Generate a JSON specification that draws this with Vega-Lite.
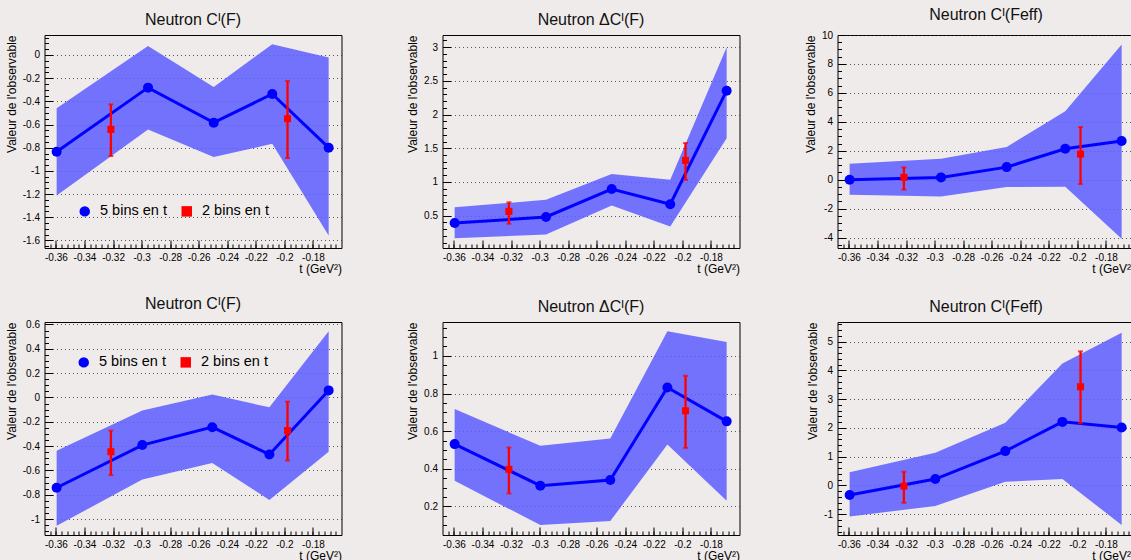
{
  "$schema": "https://vega.github.io/schema/vega-lite/v6.json",
  "padding": {"left": 4.5, "top": 6, "right": 0, "bottom": 0},
  "data": {"values": [
    {"p":1,"s":"5 bins en t","t":-0.3595,"v":-0.835,"lo":-1.212,"hi":-0.46},
    {"p":1,"s":"5 bins en t","t":-0.2955,"v":-0.282,"lo":-0.642,"hi":0.078},
    {"p":1,"s":"5 bins en t","t":-0.2495,"v":-0.584,"lo":-0.881,"hi":-0.276},
    {"p":1,"s":"5 bins en t","t":-0.2085,"v":-0.337,"lo":-0.766,"hi":0.092},
    {"p":1,"s":"5 bins en t","t":-0.169,"v":-0.80,"lo":-1.557,"hi":-0.023},
    {"p":1,"s":"2 bins en t","t":-0.3215,"v":-0.642,"lo":-0.872,"hi":-0.426},
    {"p":1,"s":"2 bins en t","t":-0.1978,"v":-0.55,"lo":-0.889,"hi":-0.225},
    {"p":2,"s":"5 bins en t","t":-0.3595,"v":0.39,"lo":0.163,"hi":0.623},
    {"p":2,"s":"5 bins en t","t":-0.2955,"v":0.48,"lo":0.222,"hi":0.736},
    {"p":2,"s":"5 bins en t","t":-0.2495,"v":0.895,"lo":0.652,"hi":1.118},
    {"p":2,"s":"5 bins en t","t":-0.2085,"v":0.67,"lo":0.34,"hi":1.034},
    {"p":2,"s":"5 bins en t","t":-0.169,"v":2.354,"lo":1.65,"hi":3.0},
    {"p":2,"s":"2 bins en t","t":-0.3215,"v":0.563,"lo":0.38,"hi":0.697},
    {"p":2,"s":"2 bins en t","t":-0.1978,"v":1.32,"lo":1.03,"hi":1.577},
    {"p":3,"s":"5 bins en t","t":-0.3595,"v":0.0,"lo":-1.04,"hi":1.1},
    {"p":3,"s":"5 bins en t","t":-0.2955,"v":0.16,"lo":-1.16,"hi":1.45},
    {"p":3,"s":"5 bins en t","t":-0.2495,"v":0.87,"lo":-0.51,"hi":2.26},
    {"p":3,"s":"5 bins en t","t":-0.2085,"v":2.14,"lo":-0.48,"hi":4.73},
    {"p":3,"s":"5 bins en t","t":-0.169,"v":2.67,"lo":-4.08,"hi":9.34},
    {"p":3,"s":"2 bins en t","t":-0.3215,"v":0.16,"lo":-0.69,"hi":0.85},
    {"p":3,"s":"2 bins en t","t":-0.1978,"v":1.77,"lo":-0.3,"hi":3.64},
    {"p":4,"s":"5 bins en t","t":-0.3595,"v":-0.742,"lo":-1.055,"hi":-0.438},
    {"p":4,"s":"5 bins en t","t":-0.2995,"v":-0.391,"lo":-0.673,"hi":-0.108},
    {"p":4,"s":"5 bins en t","t":-0.2505,"v":-0.244,"lo":-0.538,"hi":0.024},
    {"p":4,"s":"5 bins en t","t":-0.2105,"v":-0.468,"lo":-0.842,"hi":-0.081},
    {"p":4,"s":"5 bins en t","t":-0.169,"v":0.058,"lo":-0.446,"hi":0.545},
    {"p":4,"s":"2 bins en t","t":-0.3215,"v":-0.446,"lo":-0.638,"hi":-0.272},
    {"p":4,"s":"2 bins en t","t":-0.1978,"v":-0.272,"lo":-0.518,"hi":-0.034},
    {"p":5,"s":"5 bins en t","t":-0.3595,"v":0.531,"lo":0.336,"hi":0.717},
    {"p":5,"s":"5 bins en t","t":-0.2995,"v":0.31,"lo":0.101,"hi":0.522},
    {"p":5,"s":"5 bins en t","t":-0.2505,"v":0.34,"lo":0.122,"hi":0.561},
    {"p":5,"s":"5 bins en t","t":-0.2105,"v":0.832,"lo":0.529,"hi":1.131},
    {"p":5,"s":"5 bins en t","t":-0.169,"v":0.652,"lo":0.23,"hi":1.074},
    {"p":5,"s":"2 bins en t","t":-0.3215,"v":0.397,"lo":0.269,"hi":0.513},
    {"p":5,"s":"2 bins en t","t":-0.1978,"v":0.708,"lo":0.511,"hi":0.894},
    {"p":6,"s":"5 bins en t","t":-0.3595,"v":-0.33,"lo":-1.08,"hi":0.456},
    {"p":6,"s":"5 bins en t","t":-0.2995,"v":0.224,"lo":-0.71,"hi":1.14},
    {"p":6,"s":"5 bins en t","t":-0.2505,"v":1.195,"lo":0.13,"hi":2.18},
    {"p":6,"s":"5 bins en t","t":-0.2105,"v":2.21,"lo":0.224,"hi":4.24},
    {"p":6,"s":"5 bins en t","t":-0.169,"v":2.017,"lo":-1.37,"hi":5.31},
    {"p":6,"s":"2 bins en t","t":-0.3215,"v":-0.02,"lo":-0.6,"hi":0.477},
    {"p":6,"s":"2 bins en t","t":-0.1978,"v":3.43,"lo":2.16,"hi":4.66}
  ]},
  "columns": 3,
  "spacing": {"row": 20, "column": 63},
  "resolve": {"scale": {"color": "independent", "shape": "independent"}},
  "concat": [
    {
      "title": "Neutron Cᴵ(F)",
      "width": 297, "height": 213,
      "transform": [{"filter": "datum.p == 1"}],
      "resolve": {"axis": {"x": "independent", "y": "independent"}},
      "layer": [
        {"transform": [{"filter": "datum.s == '5 bins en t'"}],
         "mark": {"type": "area", "color": "#5d5dff", "opacity": 0.85},
         "encoding": {
           "x": {"field": "t", "type": "quantitative", "scale": {"domain": [-0.368, -0.16], "nice": false, "zero": false}, "title": "t (GeV²)",
                 "axis": {"orient": "bottom", "values": [-0.36,-0.34,-0.32,-0.3,-0.28,-0.26,-0.24,-0.22,-0.2,-0.18], "labelExpr": "toString(datum.value)", "tickSize": -8, "labelPadding": 12, "grid": false, "titleAnchor": "end", "titlePadding": 1, "labelFlush": false, "labelOverlap": false}},
           "y": {"field": "hi", "type": "quantitative", "scale": {"domain": [-1.665, 0.172], "nice": false, "zero": false}, "title": "Valeur de l'observable",
                 "axis": {"orient": "left", "values": [-1.6,-1.4,-1.2,-1,-0.8,-0.6,-0.4,-0.2,0], "labelExpr": "toString(datum.value)", "tickSize": -8, "labelPadding": 13, "grid": true, "titleAnchor": "end", "titlePadding": 4, "labelOverlap": false}},
           "y2": {"field": "lo"}
         }},
        {"transform": [{"filter": "datum.s == '5 bins en t'"}],
         "mark": {"type": "line", "color": "#0000ff", "strokeWidth": 3},
         "encoding": {
           "x": {"field": "t", "type": "quantitative", "scale": {"domain": [-0.368, -0.16], "nice": false, "zero": false},
                 "axis": {"orient": "bottom", "values": [-0.364,-0.36,-0.356,-0.352,-0.348,-0.344,-0.34,-0.336,-0.332,-0.328,-0.324,-0.32,-0.316,-0.312,-0.308,-0.304,-0.3,-0.296,-0.292,-0.288,-0.284,-0.28,-0.276,-0.272,-0.268,-0.264,-0.26,-0.256,-0.252,-0.248,-0.244,-0.24,-0.236,-0.232,-0.228,-0.224,-0.22,-0.216,-0.212,-0.208,-0.204,-0.2,-0.196,-0.192,-0.188,-0.184,-0.18,-0.176,-0.172,-0.168,-0.164], "tickSize": -4, "labels": false, "title": null, "grid": false}},
           "y": {"field": "v", "type": "quantitative", "scale": {"domain": [-1.665, 0.172], "nice": false, "zero": false},
                 "axis": {"orient": "left", "values": [-1.65,-1.55,-1.5,-1.45,-1.35,-1.3,-1.25,-1.15,-1.1,-1.05,-0.95,-0.9,-0.85,-0.75,-0.7,-0.65,-0.55,-0.5,-0.45,-0.35,-0.3,-0.25,-0.15,-0.1,-0.05,0.05,0.1,0.15], "tickSize": -4, "labels": false, "title": null, "grid": false}}
         }},
        {"transform": [{"filter": "datum.s == '2 bins en t'"}],
         "mark": {"type": "errorbar", "color": "#ff0000", "thickness": 2.3, "ticks": {"size": 5, "thickness": 2, "color": "#ff0000"}},
         "encoding": {
           "x": {"field": "t", "type": "quantitative", "scale": {"domain": [-0.368, -0.16], "nice": false, "zero": false}, "axis": null},
           "y": {"field": "lo", "type": "quantitative", "scale": {"domain": [-1.665, 0.172], "nice": false, "zero": false}, "axis": null},
           "y2": {"field": "hi"}
         }},
        {"mark": {"type": "point", "filled": true, "opacity": 1},
         "encoding": {
           "x": {"field": "t", "type": "quantitative", "scale": {"domain": [-0.368, -0.16], "nice": false, "zero": false}, "axis": null},
           "y": {"field": "v", "type": "quantitative", "scale": {"domain": [-1.665, 0.172], "nice": false, "zero": false}, "axis": null},
           "color": {"field": "s", "type": "nominal", "scale": {"domain": ["5 bins en t", "2 bins en t"], "range": ["#0000ff", "#ff0000"]},
                     "legend": {"orient": "none", "legendX": 33, "legendY": 169, "direction": "horizontal", "title": null, "labelFontSize": 14.5, "labelOffset": 8, "columnPadding": 12, "padding": 0, "symbolSize": 110, "symbolStrokeWidth": 0, "labelFont": "Liberation Sans", "labelColor": "#000",
                                "encode": {"symbols": {"update": {"size": {"signal": "datum.value === '5 bins en t' ? 110 : 50"}}}}}},
           "shape": {"field": "s", "type": "nominal", "scale": {"domain": ["5 bins en t", "2 bins en t"], "range": ["circle", "square"]},
                     "legend": {"orient": "none", "legendX": 33, "legendY": 169, "direction": "horizontal", "title": null, "labelFontSize": 14.5, "labelOffset": 8, "columnPadding": 12, "padding": 0, "symbolSize": 110, "symbolStrokeWidth": 0, "labelFont": "Liberation Sans", "labelColor": "#000",
                                "encode": {"symbols": {"update": {"size": {"signal": "datum.value === '5 bins en t' ? 110 : 50"}}}}}},
           "size": {"condition": {"test": "datum.s == '2 bins en t'", "value": 50}, "value": 100}
         }}
      ]
    },
    {
      "title": "Neutron ΔCᴵ(F)",
      "width": 297, "height": 213,
      "transform": [{"filter": "datum.p == 2"}],
      "resolve": {"axis": {"x": "independent", "y": "independent"}},
      "layer": [
        {"transform": [{"filter": "datum.s == '5 bins en t'"}],
         "mark": {"type": "area", "color": "#5d5dff", "opacity": 0.85},
         "encoding": {
           "x": {"field": "t", "type": "quantitative", "scale": {"domain": [-0.368, -0.16], "nice": false, "zero": false}, "title": "t (GeV²)",
                 "axis": {"orient": "bottom", "values": [-0.36,-0.34,-0.32,-0.3,-0.28,-0.26,-0.24,-0.22,-0.2,-0.18], "labelExpr": "toString(datum.value)", "tickSize": -8, "labelPadding": 12, "grid": false, "titleAnchor": "end", "titlePadding": 1, "labelFlush": false, "labelOverlap": false}},
           "y": {"field": "hi", "type": "quantitative", "scale": {"domain": [0.02, 3.18], "nice": false, "zero": false}, "title": "Valeur de l'observable",
                 "axis": {"orient": "left", "values": [0.5,1,1.5,2,2.5,3], "labelExpr": "toString(datum.value)", "tickSize": -8, "labelPadding": 13, "grid": true, "titleAnchor": "end", "titlePadding": 4, "labelOverlap": false}},
           "y2": {"field": "lo"}
         }},
        {"transform": [{"filter": "datum.s == '5 bins en t'"}],
         "mark": {"type": "line", "color": "#0000ff", "strokeWidth": 3},
         "encoding": {
           "x": {"field": "t", "type": "quantitative", "scale": {"domain": [-0.368, -0.16], "nice": false, "zero": false},
                 "axis": {"orient": "bottom", "values": [-0.364,-0.36,-0.356,-0.352,-0.348,-0.344,-0.34,-0.336,-0.332,-0.328,-0.324,-0.32,-0.316,-0.312,-0.308,-0.304,-0.3,-0.296,-0.292,-0.288,-0.284,-0.28,-0.276,-0.272,-0.268,-0.264,-0.26,-0.256,-0.252,-0.248,-0.244,-0.24,-0.236,-0.232,-0.228,-0.224,-0.22,-0.216,-0.212,-0.208,-0.204,-0.2,-0.196,-0.192,-0.188,-0.184,-0.18,-0.176,-0.172,-0.168,-0.164], "tickSize": -4, "labels": false, "title": null, "grid": false}},
           "y": {"field": "v", "type": "quantitative", "scale": {"domain": [0.02, 3.18], "nice": false, "zero": false},
                 "axis": {"orient": "left", "values": [0.1,0.2,0.3,0.4,0.6,0.7,0.8,0.9,1.1,1.2,1.3,1.4,1.6,1.7,1.8,1.9,2.1,2.2,2.3,2.4,2.6,2.7,2.8,2.9,3.1], "tickSize": -4, "labels": false, "title": null, "grid": false}}
         }},
        {"transform": [{"filter": "datum.s == '2 bins en t'"}],
         "mark": {"type": "errorbar", "color": "#ff0000", "thickness": 2.3, "ticks": {"size": 5, "thickness": 2, "color": "#ff0000"}},
         "encoding": {
           "x": {"field": "t", "type": "quantitative", "scale": {"domain": [-0.368, -0.16], "nice": false, "zero": false}, "axis": null},
           "y": {"field": "lo", "type": "quantitative", "scale": {"domain": [0.02, 3.18], "nice": false, "zero": false}, "axis": null},
           "y2": {"field": "hi"}
         }},
        {"mark": {"type": "point", "filled": true, "opacity": 1},
         "encoding": {
           "x": {"field": "t", "type": "quantitative", "scale": {"domain": [-0.368, -0.16], "nice": false, "zero": false}, "axis": null},
           "y": {"field": "v", "type": "quantitative", "scale": {"domain": [0.02, 3.18], "nice": false, "zero": false}, "axis": null},
           "color": {"field": "s", "type": "nominal", "scale": {"domain": ["5 bins en t", "2 bins en t"], "range": ["#0000ff", "#ff0000"]}, "legend": null},
           "shape": {"field": "s", "type": "nominal", "scale": {"domain": ["5 bins en t", "2 bins en t"], "range": ["circle", "square"]}, "legend": null},
           "size": {"condition": {"test": "datum.s == '2 bins en t'", "value": 50}, "value": 100}
         }}
      ]
    },
    {
      "title": "Neutron Cᴵ(Feff)",
      "width": 297, "height": 213,
      "transform": [{"filter": "datum.p == 3"}],
      "resolve": {"axis": {"x": "independent", "y": "independent"}},
      "layer": [
        {"transform": [{"filter": "datum.s == '5 bins en t'"}],
         "mark": {"type": "area", "color": "#5d5dff", "opacity": 0.85},
         "encoding": {
           "x": {"field": "t", "type": "quantitative", "scale": {"domain": [-0.368, -0.16], "nice": false, "zero": false}, "title": "t (GeV²)",
                 "axis": {"orient": "bottom", "values": [-0.36,-0.34,-0.32,-0.3,-0.28,-0.26,-0.24,-0.22,-0.2,-0.18], "labelExpr": "toString(datum.value)", "tickSize": -8, "labelPadding": 12, "grid": false, "titleAnchor": "end", "titlePadding": 1, "labelFlush": false, "labelOverlap": false}},
           "y": {"field": "hi", "type": "quantitative", "scale": {"domain": [-4.72, 10], "nice": false, "zero": false}, "title": "Valeur de l'observable",
                 "axis": {"orient": "left", "values": [-4,-2,0,2,4,6,8,10], "labelExpr": "toString(datum.value)", "tickSize": -8, "labelPadding": 13, "grid": true, "titleAnchor": "end", "titlePadding": 4, "labelOverlap": false}},
           "y2": {"field": "lo"}
         }},
        {"transform": [{"filter": "datum.s == '5 bins en t'"}],
         "mark": {"type": "line", "color": "#0000ff", "strokeWidth": 3},
         "encoding": {
           "x": {"field": "t", "type": "quantitative", "scale": {"domain": [-0.368, -0.16], "nice": false, "zero": false},
                 "axis": {"orient": "bottom", "values": [-0.364,-0.36,-0.356,-0.352,-0.348,-0.344,-0.34,-0.336,-0.332,-0.328,-0.324,-0.32,-0.316,-0.312,-0.308,-0.304,-0.3,-0.296,-0.292,-0.288,-0.284,-0.28,-0.276,-0.272,-0.268,-0.264,-0.26,-0.256,-0.252,-0.248,-0.244,-0.24,-0.236,-0.232,-0.228,-0.224,-0.22,-0.216,-0.212,-0.208,-0.204,-0.2,-0.196,-0.192,-0.188,-0.184,-0.18,-0.176,-0.172,-0.168,-0.164], "tickSize": -4, "labels": false, "title": null, "grid": false}},
           "y": {"field": "v", "type": "quantitative", "scale": {"domain": [-4.72, 10], "nice": false, "zero": false},
                 "axis": {"orient": "left", "values": [-4.5,-3.5,-3,-2.5,-1.5,-1,-0.5,0.5,1,1.5,2.5,3,3.5,4.5,5,5.5,6.5,7,7.5,8.5,9,9.5], "tickSize": -4, "labels": false, "title": null, "grid": false}}
         }},
        {"transform": [{"filter": "datum.s == '2 bins en t'"}],
         "mark": {"type": "errorbar", "color": "#ff0000", "thickness": 2.3, "ticks": {"size": 5, "thickness": 2, "color": "#ff0000"}},
         "encoding": {
           "x": {"field": "t", "type": "quantitative", "scale": {"domain": [-0.368, -0.16], "nice": false, "zero": false}, "axis": null},
           "y": {"field": "lo", "type": "quantitative", "scale": {"domain": [-4.72, 10], "nice": false, "zero": false}, "axis": null},
           "y2": {"field": "hi"}
         }},
        {"mark": {"type": "point", "filled": true, "opacity": 1},
         "encoding": {
           "x": {"field": "t", "type": "quantitative", "scale": {"domain": [-0.368, -0.16], "nice": false, "zero": false}, "axis": null},
           "y": {"field": "v", "type": "quantitative", "scale": {"domain": [-4.72, 10], "nice": false, "zero": false}, "axis": null},
           "color": {"field": "s", "type": "nominal", "scale": {"domain": ["5 bins en t", "2 bins en t"], "range": ["#0000ff", "#ff0000"]}, "legend": null},
           "shape": {"field": "s", "type": "nominal", "scale": {"domain": ["5 bins en t", "2 bins en t"], "range": ["circle", "square"]}, "legend": null},
           "size": {"condition": {"test": "datum.s == '2 bins en t'", "value": 50}, "value": 100}
         }}
      ]
    },
    {
      "title": "Neutron Cᴵ(F)",
      "width": 297, "height": 213,
      "transform": [{"filter": "datum.p == 4"}],
      "resolve": {"axis": {"x": "independent", "y": "independent"}},
      "layer": [
        {"transform": [{"filter": "datum.s == '5 bins en t'"}],
         "mark": {"type": "area", "color": "#5d5dff", "opacity": 0.85},
         "encoding": {
           "x": {"field": "t", "type": "quantitative", "scale": {"domain": [-0.368, -0.16], "nice": false, "zero": false}, "title": "t (GeV²)",
                 "axis": {"orient": "bottom", "values": [-0.36,-0.34,-0.32,-0.3,-0.28,-0.26,-0.24,-0.22,-0.2,-0.18], "labelExpr": "toString(datum.value)", "tickSize": -8, "labelPadding": 12, "grid": false, "titleAnchor": "end", "titlePadding": 1, "labelFlush": false, "labelOverlap": false}},
           "y": {"field": "hi", "type": "quantitative", "scale": {"domain": [-1.13, 0.62], "nice": false, "zero": false}, "title": "Valeur de l'observable",
                 "axis": {"orient": "left", "values": [-1,-0.8,-0.6,-0.4,-0.2,0,0.2,0.4,0.6], "labelExpr": "toString(datum.value)", "tickSize": -8, "labelPadding": 13, "grid": true, "titleAnchor": "end", "titlePadding": 4, "labelOverlap": false}},
           "y2": {"field": "lo"}
         }},
        {"transform": [{"filter": "datum.s == '5 bins en t'"}],
         "mark": {"type": "line", "color": "#0000ff", "strokeWidth": 3},
         "encoding": {
           "x": {"field": "t", "type": "quantitative", "scale": {"domain": [-0.368, -0.16], "nice": false, "zero": false},
                 "axis": {"orient": "bottom", "values": [-0.364,-0.36,-0.356,-0.352,-0.348,-0.344,-0.34,-0.336,-0.332,-0.328,-0.324,-0.32,-0.316,-0.312,-0.308,-0.304,-0.3,-0.296,-0.292,-0.288,-0.284,-0.28,-0.276,-0.272,-0.268,-0.264,-0.26,-0.256,-0.252,-0.248,-0.244,-0.24,-0.236,-0.232,-0.228,-0.224,-0.22,-0.216,-0.212,-0.208,-0.204,-0.2,-0.196,-0.192,-0.188,-0.184,-0.18,-0.176,-0.172,-0.168,-0.164], "tickSize": -4, "labels": false, "title": null, "grid": false}},
           "y": {"field": "v", "type": "quantitative", "scale": {"domain": [-1.13, 0.62], "nice": false, "zero": false},
                 "axis": {"orient": "left", "values": [-1.1,-1.05,-0.95,-0.9,-0.85,-0.75,-0.7,-0.65,-0.55,-0.5,-0.45,-0.35,-0.3,-0.25,-0.15,-0.1,-0.05,0.05,0.1,0.15,0.25,0.3,0.35,0.45,0.5,0.55], "tickSize": -4, "labels": false, "title": null, "grid": false}}
         }},
        {"transform": [{"filter": "datum.s == '2 bins en t'"}],
         "mark": {"type": "errorbar", "color": "#ff0000", "thickness": 2.3, "ticks": {"size": 5, "thickness": 2, "color": "#ff0000"}},
         "encoding": {
           "x": {"field": "t", "type": "quantitative", "scale": {"domain": [-0.368, -0.16], "nice": false, "zero": false}, "axis": null},
           "y": {"field": "lo", "type": "quantitative", "scale": {"domain": [-1.13, 0.62], "nice": false, "zero": false}, "axis": null},
           "y2": {"field": "hi"}
         }},
        {"mark": {"type": "point", "filled": true, "opacity": 1},
         "encoding": {
           "x": {"field": "t", "type": "quantitative", "scale": {"domain": [-0.368, -0.16], "nice": false, "zero": false}, "axis": null},
           "y": {"field": "v", "type": "quantitative", "scale": {"domain": [-1.13, 0.62], "nice": false, "zero": false}, "axis": null},
           "color": {"field": "s", "type": "nominal", "scale": {"domain": ["5 bins en t", "2 bins en t"], "range": ["#0000ff", "#ff0000"]},
                     "legend": {"orient": "none", "legendX": 32, "legendY": 33, "direction": "horizontal", "title": null, "labelFontSize": 14.5, "labelOffset": 8, "columnPadding": 12, "padding": 0, "symbolSize": 110, "symbolStrokeWidth": 0, "labelFont": "Liberation Sans", "labelColor": "#000",
                                "encode": {"symbols": {"update": {"size": {"signal": "datum.value === '5 bins en t' ? 110 : 50"}}}}}},
           "shape": {"field": "s", "type": "nominal", "scale": {"domain": ["5 bins en t", "2 bins en t"], "range": ["circle", "square"]},
                     "legend": {"orient": "none", "legendX": 32, "legendY": 33, "direction": "horizontal", "title": null, "labelFontSize": 14.5, "labelOffset": 8, "columnPadding": 12, "padding": 0, "symbolSize": 110, "symbolStrokeWidth": 0, "labelFont": "Liberation Sans", "labelColor": "#000",
                                "encode": {"symbols": {"update": {"size": {"signal": "datum.value === '5 bins en t' ? 110 : 50"}}}}}},
           "size": {"condition": {"test": "datum.s == '2 bins en t'", "value": 50}, "value": 100}
         }}
      ]
    },
    {
      "title": "Neutron ΔCᴵ(F)",
      "width": 297, "height": 213,
      "transform": [{"filter": "datum.p == 5"}],
      "resolve": {"axis": {"x": "independent", "y": "independent"}},
      "layer": [
        {"transform": [{"filter": "datum.s == '5 bins en t'"}],
         "mark": {"type": "area", "color": "#5d5dff", "opacity": 0.85},
         "encoding": {
           "x": {"field": "t", "type": "quantitative", "scale": {"domain": [-0.368, -0.16], "nice": false, "zero": false}, "title": "t (GeV²)",
                 "axis": {"orient": "bottom", "values": [-0.36,-0.34,-0.32,-0.3,-0.28,-0.26,-0.24,-0.22,-0.2,-0.18], "labelExpr": "toString(datum.value)", "tickSize": -8, "labelPadding": 12, "grid": false, "titleAnchor": "end", "titlePadding": 1, "labelFlush": false, "labelOverlap": false}},
           "y": {"field": "hi", "type": "quantitative", "scale": {"domain": [0.048, 1.18], "nice": false, "zero": false}, "title": "Valeur de l'observable",
                 "axis": {"orient": "left", "values": [0.2,0.4,0.6,0.8,1], "labelExpr": "toString(datum.value)", "tickSize": -8, "labelPadding": 13, "grid": true, "titleAnchor": "end", "titlePadding": 4, "labelOverlap": false}},
           "y2": {"field": "lo"}
         }},
        {"transform": [{"filter": "datum.s == '5 bins en t'"}],
         "mark": {"type": "line", "color": "#0000ff", "strokeWidth": 3},
         "encoding": {
           "x": {"field": "t", "type": "quantitative", "scale": {"domain": [-0.368, -0.16], "nice": false, "zero": false},
                 "axis": {"orient": "bottom", "values": [-0.364,-0.36,-0.356,-0.352,-0.348,-0.344,-0.34,-0.336,-0.332,-0.328,-0.324,-0.32,-0.316,-0.312,-0.308,-0.304,-0.3,-0.296,-0.292,-0.288,-0.284,-0.28,-0.276,-0.272,-0.268,-0.264,-0.26,-0.256,-0.252,-0.248,-0.244,-0.24,-0.236,-0.232,-0.228,-0.224,-0.22,-0.216,-0.212,-0.208,-0.204,-0.2,-0.196,-0.192,-0.188,-0.184,-0.18,-0.176,-0.172,-0.168,-0.164], "tickSize": -4, "labels": false, "title": null, "grid": false}},
           "y": {"field": "v", "type": "quantitative", "scale": {"domain": [0.048, 1.18], "nice": false, "zero": false},
                 "axis": {"orient": "left", "values": [0.05,0.1,0.15,0.25,0.3,0.35,0.45,0.5,0.55,0.65,0.7,0.75,0.85,0.9,0.95,1.05,1.1,1.15], "tickSize": -4, "labels": false, "title": null, "grid": false}}
         }},
        {"transform": [{"filter": "datum.s == '2 bins en t'"}],
         "mark": {"type": "errorbar", "color": "#ff0000", "thickness": 2.3, "ticks": {"size": 5, "thickness": 2, "color": "#ff0000"}},
         "encoding": {
           "x": {"field": "t", "type": "quantitative", "scale": {"domain": [-0.368, -0.16], "nice": false, "zero": false}, "axis": null},
           "y": {"field": "lo", "type": "quantitative", "scale": {"domain": [0.048, 1.18], "nice": false, "zero": false}, "axis": null},
           "y2": {"field": "hi"}
         }},
        {"mark": {"type": "point", "filled": true, "opacity": 1},
         "encoding": {
           "x": {"field": "t", "type": "quantitative", "scale": {"domain": [-0.368, -0.16], "nice": false, "zero": false}, "axis": null},
           "y": {"field": "v", "type": "quantitative", "scale": {"domain": [0.048, 1.18], "nice": false, "zero": false}, "axis": null},
           "color": {"field": "s", "type": "nominal", "scale": {"domain": ["5 bins en t", "2 bins en t"], "range": ["#0000ff", "#ff0000"]}, "legend": null},
           "shape": {"field": "s", "type": "nominal", "scale": {"domain": ["5 bins en t", "2 bins en t"], "range": ["circle", "square"]}, "legend": null},
           "size": {"condition": {"test": "datum.s == '2 bins en t'", "value": 50}, "value": 100}
         }}
      ]
    },
    {
      "title": "Neutron Cᴵ(Feff)",
      "width": 297, "height": 213,
      "transform": [{"filter": "datum.p == 6"}],
      "resolve": {"axis": {"x": "independent", "y": "independent"}},
      "layer": [
        {"transform": [{"filter": "datum.s == '5 bins en t'"}],
         "mark": {"type": "area", "color": "#5d5dff", "opacity": 0.85},
         "encoding": {
           "x": {"field": "t", "type": "quantitative", "scale": {"domain": [-0.368, -0.16], "nice": false, "zero": false}, "title": "t (GeV²)",
                 "axis": {"orient": "bottom", "values": [-0.36,-0.34,-0.32,-0.3,-0.28,-0.26,-0.24,-0.22,-0.2,-0.18], "labelExpr": "toString(datum.value)", "tickSize": -8, "labelPadding": 12, "grid": false, "titleAnchor": "end", "titlePadding": 1, "labelFlush": false, "labelOverlap": false}},
           "y": {"field": "hi", "type": "quantitative", "scale": {"domain": [-1.72, 5.68], "nice": false, "zero": false}, "title": "Valeur de l'observable",
                 "axis": {"orient": "left", "values": [-1,0,1,2,3,4,5], "labelExpr": "toString(datum.value)", "tickSize": -8, "labelPadding": 13, "grid": true, "titleAnchor": "end", "titlePadding": 4, "labelOverlap": false}},
           "y2": {"field": "lo"}
         }},
        {"transform": [{"filter": "datum.s == '5 bins en t'"}],
         "mark": {"type": "line", "color": "#0000ff", "strokeWidth": 3},
         "encoding": {
           "x": {"field": "t", "type": "quantitative", "scale": {"domain": [-0.368, -0.16], "nice": false, "zero": false},
                 "axis": {"orient": "bottom", "values": [-0.364,-0.36,-0.356,-0.352,-0.348,-0.344,-0.34,-0.336,-0.332,-0.328,-0.324,-0.32,-0.316,-0.312,-0.308,-0.304,-0.3,-0.296,-0.292,-0.288,-0.284,-0.28,-0.276,-0.272,-0.268,-0.264,-0.26,-0.256,-0.252,-0.248,-0.244,-0.24,-0.236,-0.232,-0.228,-0.224,-0.22,-0.216,-0.212,-0.208,-0.204,-0.2,-0.196,-0.192,-0.188,-0.184,-0.18,-0.176,-0.172,-0.168,-0.164], "tickSize": -4, "labels": false, "title": null, "grid": false}},
           "y": {"field": "v", "type": "quantitative", "scale": {"domain": [-1.72, 5.68], "nice": false, "zero": false},
                 "axis": {"orient": "left", "values": [-1.6,-1.4,-1.2,-0.8,-0.6,-0.4,-0.2,0.2,0.4,0.6,0.8,1.2,1.4,1.6,1.8,2.2,2.4,2.6,2.8,3.2,3.4,3.6,3.8,4.2,4.4,4.6,4.8,5.2,5.4,5.6], "tickSize": -4, "labels": false, "title": null, "grid": false}}
         }},
        {"transform": [{"filter": "datum.s == '2 bins en t'"}],
         "mark": {"type": "errorbar", "color": "#ff0000", "thickness": 2.3, "ticks": {"size": 5, "thickness": 2, "color": "#ff0000"}},
         "encoding": {
           "x": {"field": "t", "type": "quantitative", "scale": {"domain": [-0.368, -0.16], "nice": false, "zero": false}, "axis": null},
           "y": {"field": "lo", "type": "quantitative", "scale": {"domain": [-1.72, 5.68], "nice": false, "zero": false}, "axis": null},
           "y2": {"field": "hi"}
         }},
        {"mark": {"type": "point", "filled": true, "opacity": 1},
         "encoding": {
           "x": {"field": "t", "type": "quantitative", "scale": {"domain": [-0.368, -0.16], "nice": false, "zero": false}, "axis": null},
           "y": {"field": "v", "type": "quantitative", "scale": {"domain": [-1.72, 5.68], "nice": false, "zero": false}, "axis": null},
           "color": {"field": "s", "type": "nominal", "scale": {"domain": ["5 bins en t", "2 bins en t"], "range": ["#0000ff", "#ff0000"]}, "legend": null},
           "shape": {"field": "s", "type": "nominal", "scale": {"domain": ["5 bins en t", "2 bins en t"], "range": ["circle", "square"]}, "legend": null},
           "size": {"condition": {"test": "datum.s == '2 bins en t'", "value": 50}, "value": 100}
         }}
      ]
    }
  ],
  "config": {
    "background": "#efebea",
    "font": "Liberation Sans",
    "view": {"stroke": "#000000", "strokeWidth": 1},
    "axis": {"domain": false, "labelFont": "Liberation Sans", "labelFontSize": 10, "labelColor": "#000000", "tickColor": "#000000", "tickWidth": 1, "titleFont": "Liberation Sans", "titleFontSize": 12, "titleFontWeight": "normal", "titleColor": "#000000", "gridColor": "#333333", "gridDash": [1, 3], "gridOpacity": 0.8},
    "title": {"font": "Liberation Sans", "fontSize": 16, "fontWeight": "normal", "color": "#111111", "offset": 7}
  }
}
